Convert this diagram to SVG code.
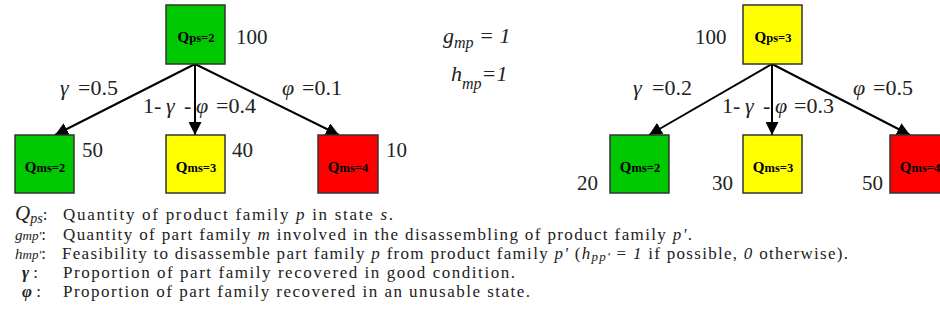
<svg xmlns="http://www.w3.org/2000/svg" width="940" height="328" viewBox="0 0 940 328" font-family="'Liberation Serif', 'Times New Roman', serif">
<defs>
<style>
text{font-family:'Liberation Serif','Times New Roman',serif;fill:#222}
.box{stroke:#333;stroke-width:1.5}
.g{fill:#00c800}.y{fill:#ffff00}.r{fill:#ff0000}
.bl{font-weight:bold;fill:#000}
.num{font-size:21px}
.lbl{font-size:22px}
.it{font-style:italic}
.edge{stroke:#000;stroke-width:2;fill:none;marker-end:url(#ah)}
.leg{font-size:17px}
</style>
<marker id="ah" viewBox="0 0 10 10" refX="10" refY="5" markerWidth="6.5" markerHeight="6.5" orient="auto" markerUnits="strokeWidth">
<path d="M0,0 L10,5 L0,10 z" fill="#000"/>
</marker>
</defs>
<g id="connectors">
<line class="edge" x1="195" y1="64" x2="55" y2="135"/>
<line class="edge" x1="195" y1="64" x2="195" y2="135"/>
<line class="edge" x1="195" y1="64" x2="339" y2="135"/>
<line class="edge" x1="772" y1="64" x2="649" y2="135"/>
<line class="edge" x1="772" y1="64" x2="772" y2="135"/>
<line class="edge" x1="772" y1="64" x2="910" y2="135"/>
</g>
<g id="edge-labels" class="lbl">
<text y="95"><tspan x="60" class="it">γ</tspan><tspan x="78">=0.5</tspan></text>
<text y="113"><tspan x="143">1-</tspan><tspan x="166" class="it">γ</tspan><tspan x="184">-</tspan><tspan x="196" class="it">φ</tspan><tspan x="216">=0.4</tspan></text>
<text y="95"><tspan x="282" class="it">φ</tspan><tspan x="302">=0.1</tspan></text>
<text y="95"><tspan x="633" class="it">γ</tspan><tspan x="652">=0.2</tspan></text>
<text y="113"><tspan x="722">1-</tspan><tspan x="745" class="it">γ</tspan><tspan x="763">-</tspan><tspan x="775" class="it">φ</tspan><tspan x="794">=0.3</tspan></text>
<text y="95"><tspan x="853" class="it">φ</tspan><tspan x="873">=0.5</tspan></text>
</g>
<g id="n-ps2">
<rect class="box g" x="166" y="5" width="59" height="59"/>
<text x="196" y="42" text-anchor="middle" class="bl"><tspan font-size="15">Q</tspan><tspan font-size="12.5">ps=2</tspan></text>
<text x="236" y="44" class="num">100</text>
</g>
<g id="n-l-ms2">
<rect class="box g" x="15" y="135" width="59" height="58"/>
<text x="45" y="172" text-anchor="middle" class="bl"><tspan font-size="15">Q</tspan><tspan font-size="12.5">ms=2</tspan></text>
<text x="82" y="157" class="num">50</text>
</g>
<g id="n-l-ms3">
<rect class="box y" x="166" y="135" width="59" height="58"/>
<text x="196" y="172" text-anchor="middle" class="bl"><tspan font-size="15">Q</tspan><tspan font-size="12.5">ms=3</tspan></text>
<text x="232" y="157" class="num">40</text>
</g>
<g id="n-l-ms4">
<rect class="box r" x="318" y="135" width="60" height="58"/>
<text x="348" y="172" text-anchor="middle" class="bl"><tspan font-size="15">Q</tspan><tspan font-size="12.5">ms=4</tspan></text>
<text x="386" y="157" class="num">10</text>
</g>
<g id="params" class="lbl it">
<text x="443" y="43">g<tspan font-size="16" dy="5">mp</tspan><tspan dy="-5"> = 1</tspan></text>
<text x="451" y="81">h<tspan font-size="16" dy="8">mp</tspan><tspan dy="-8">=1</tspan></text>
</g>
<g id="n-ps3">
<rect class="box y" x="743" y="5" width="59" height="59"/>
<text x="773" y="42" text-anchor="middle" class="bl"><tspan font-size="15">Q</tspan><tspan font-size="12.5">ps=3</tspan></text>
<text x="695" y="44" class="num">100</text>
</g>
<g id="n-r-ms2">
<rect class="box g" x="610" y="135" width="59" height="58"/>
<text x="640" y="172" text-anchor="middle" class="bl"><tspan font-size="15">Q</tspan><tspan font-size="12.5">ms=2</tspan></text>
<text x="577" y="190" class="num">20</text>
</g>
<g id="n-r-ms3">
<rect class="box y" x="743" y="135" width="59" height="58"/>
<text x="773" y="172" text-anchor="middle" class="bl"><tspan font-size="15">Q</tspan><tspan font-size="12.5">ms=3</tspan></text>
<text x="712" y="190" class="num">30</text>
</g>
<g id="n-r-ms4">
<rect class="box r" x="890" y="135" width="60" height="58"/>
<text x="920" y="172" text-anchor="middle" class="bl"><tspan font-size="15">Q</tspan><tspan font-size="12.5">ms=4</tspan></text>
<text x="862" y="190" class="num">50</text>
</g>
<g id="legend" class="leg">
<text x="15" y="220"><tspan class="it" font-size="21">Q</tspan><tspan class="it" font-size="14" dy="3">ps</tspan><tspan dy="-3">:</tspan></text>
<text x="63" y="220" textLength="330">Quantity of product family <tspan class="it">p</tspan> in state <tspan class="it">s</tspan>.</text>
<text x="15" y="240"><tspan class="it" font-size="15">g</tspan><tspan class="it" font-size="13">mp'</tspan>:</text>
<text x="63" y="240" textLength="629">Quantity of part family <tspan class="it">m</tspan> involved in the disassembling of product family <tspan class="it">p'</tspan>.</text>
<text x="15" y="259"><tspan class="it" font-size="15">h</tspan><tspan class="it" font-size="13">mp'</tspan>:</text>
<text x="62" y="259" textLength="786">Feasibility to disassemble part family <tspan class="it">p</tspan> from product family <tspan class="it">p'</tspan> (<tspan class="it">h</tspan><tspan class="it" font-size="13" dy="2">pp'</tspan><tspan dy="-2"> = </tspan><tspan class="it">1</tspan> if possible, <tspan class="it">0</tspan> otherwise).</text>
<text x="22" y="278"><tspan class="it" font-weight="bold" font-size="17">γ</tspan> :</text>
<text x="63" y="278" textLength="452">Proportion of part family recovered in good condition.</text>
<text x="22" y="297"><tspan class="it" font-weight="bold" font-size="17">φ</tspan> :</text>
<text x="63" y="297" textLength="467">Proportion of part family recovered in an unusable state.</text>
</g>
</svg>
